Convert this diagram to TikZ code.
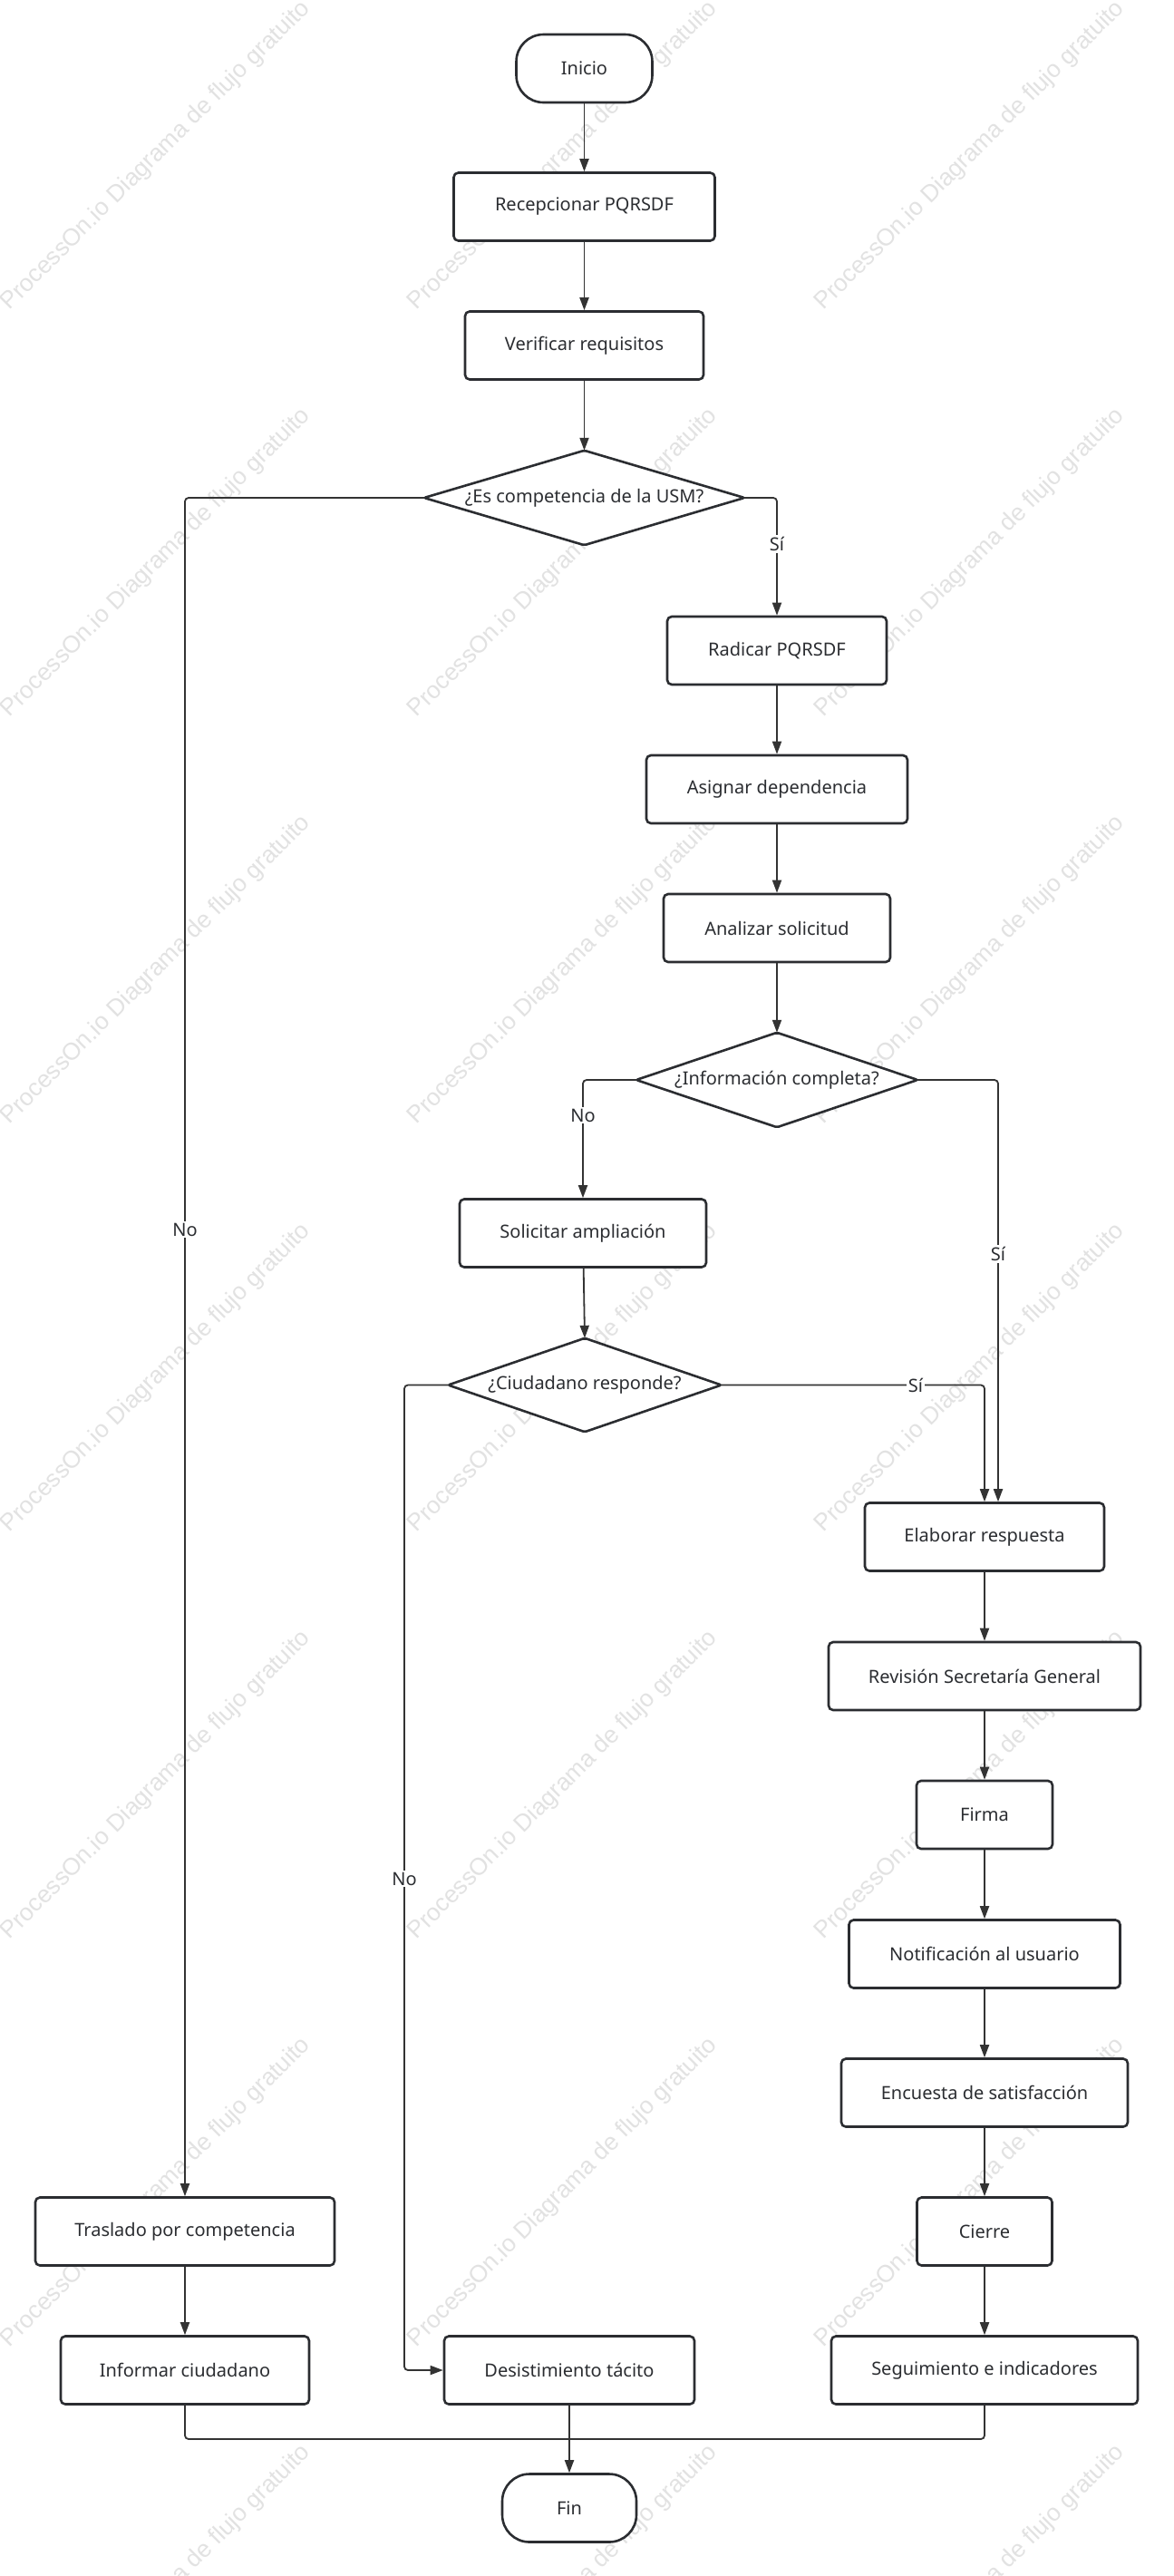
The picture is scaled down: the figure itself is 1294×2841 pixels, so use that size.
\documentclass[tikz,border=0pt]{standalone}
\usepackage{fontspec}
\setmainfont{Noto Sans}
\newfontfamily\wmfont{Liberation Sans}
\usetikzlibrary{arrows.meta}
\definecolor{ink}{HTML}{2B2D31}
\definecolor{lineink}{HTML}{333333}
\definecolor{wm}{HTML}{E2E2E2}
\tikzset{
  txt/.style={font=\fontsize{20}{24}\selectfont,text=ink},
  box/.style={txt,draw=ink,line width=2.6pt,fill=white,rounded corners=5pt,minimum height=75pt,inner sep=0pt},
  term/.style={box,rounded corners=30pt},
  decframe/.style={rectangle,inner sep=0pt},
  decline/.style={draw=ink,line width=2.6pt,fill=white,line join=round,rounded corners=2pt},
  conn/.style={draw=lineink,line width=1.8pt,-{Triangle[length=14pt,width=10pt]},rounded corners=4pt},
  plain/.style={draw=lineink,line width=1.8pt,rounded corners=4pt},
  lbl/.style={txt,fill=white,inner sep=2pt},
  wmtext/.style={font=\wmfont\fontsize{26.5}{30}\selectfont,text=wm,rotate=45}
}
\begin{document}
\begin{tikzpicture}[x=1pt,y=-1pt]
\useasboundingbox (0,0) rectangle (1294,2841);
\fill[white] (0,0) rectangle (1294,2841);
% watermark
\foreach \wx in {172,621,1070}{
  \foreach \wy in {172,621,1070,1520,1969,2418,2867}{
    \node[wmtext] at (\wx,\wy) {ProcessOn.io Diagrama de flujo gratuito};
  }
}
% nodes
\node[term,minimum width=150pt] (ini) at (644.5,75.5) {Inicio};
\node[box,minimum width=288pt] (rec) at (644.5,228) {Recepcionar PQRSDF};
\node[box,minimum width=263pt] (ver) at (644.5,381) {Verificar requisitos};
\node[decframe,minimum width=353pt,minimum height=104pt] (d1) at (644.5,549) {};
\draw[decline] (d1.north) -- (d1.east) -- (d1.south) -- (d1.west) -- cycle;
\node[txt] (d1t) at (d1.center) {¿Es competencia de la USM?};
\node[box,minimum width=242pt] (rad) at (857,717.5) {Radicar PQRSDF};
\node[box,minimum width=288pt] (asi) at (857,870.5) {Asignar dependencia};
\node[box,minimum width=250pt] (ana) at (857,1023.5) {Analizar solicitud};
\node[decframe,minimum width=310pt,minimum height=104pt] (d2) at (857,1191) {};
\draw[decline] (d2.north) -- (d2.east) -- (d2.south) -- (d2.west) -- cycle;
\node[txt] (d2t) at (d2.center) {¿Información completa?};
\node[box,minimum width=272pt] (sol) at (643,1360) {Solicitar ampliación};
\node[decframe,minimum width=301pt,minimum height=103pt] (d3) at (645,1527.5) {};
\draw[decline] (d3.north) -- (d3.east) -- (d3.south) -- (d3.west) -- cycle;
\node[txt] (d3t) at (d3.center) {¿Ciudadano responde?};
\node[box,minimum width=264pt] (ela) at (1086,1695) {Elaborar respuesta};
\node[box,minimum width=344pt] (rev) at (1086,1848.5) {Revisión Secretaría General};
\node[box,minimum width=150pt] (fir) at (1086,2001.5) {Firma};
\node[box,minimum width=299pt] (not) at (1086,2155) {Notificación al usuario};
\node[box,minimum width=316pt] (enc) at (1086,2308) {Encuesta de satisfacción};
\node[box,minimum width=149pt] (cie) at (1086,2461) {Cierre};
\node[box,minimum width=338pt] (seg) at (1086,2614) {Seguimiento e indicadores};
\node[box,minimum width=330pt] (tra) at (204,2461) {Traslado por competencia};
\node[box,minimum width=274pt] (inf) at (204,2614) {Informar ciudadano};
\node[box,minimum width=276pt] (des) at (628,2614) {Desistimiento tácito};
\node[term,minimum width=148pt] (fin) at (628,2766) {Fin};
\coordinate (m) at (628,2690);
% connectors
\draw[conn] (ini) -- (rec);
\draw[conn] (rec) -- (ver);
\draw[conn] (ver) -- (d1.north);
\draw[conn] (d1.west) -| (tra.north);
\node[lbl] (l1) at (204,1356) {No};
\draw[conn] (d1.east) -| (rad.north);
\node[lbl] (l2) at (857,600) {Sí};
\draw[conn] (rad) -- (asi);
\draw[conn] (asi) -- (ana);
\draw[conn] (ana) -- (d2.north);
\draw[conn] (d2.west) -| (sol.north);
\node[lbl] (l3) at (643,1230) {No};
\draw[conn] (d2.east) -| ([xshift=15pt]ela.north);
\node[lbl] (l4) at (1101,1383) {Sí};
\draw[conn] (sol) -- (d3.north);
\draw[conn] (d3.west) -| (446,2100) |- (des.west);
\node[lbl] (l5) at (446,2072) {No};
\draw[conn] (d3.east) -| (ela.north);
\node[lbl] (l6) at (1010,1527.5) {Sí};
\draw[conn] (ela) -- (rev);
\draw[conn] (rev) -- (fir);
\draw[conn] (fir) -- (not);
\draw[conn] (not) -- (enc);
\draw[conn] (enc) -- (cie);
\draw[conn] (cie) -- (seg);
\draw[conn] (tra) -- (inf);
\draw[plain] (inf.south) |- (m);
\draw[plain] (seg.south) |- (m);
\draw[conn] (des) -- (fin);
\end{tikzpicture}
\end{document}
